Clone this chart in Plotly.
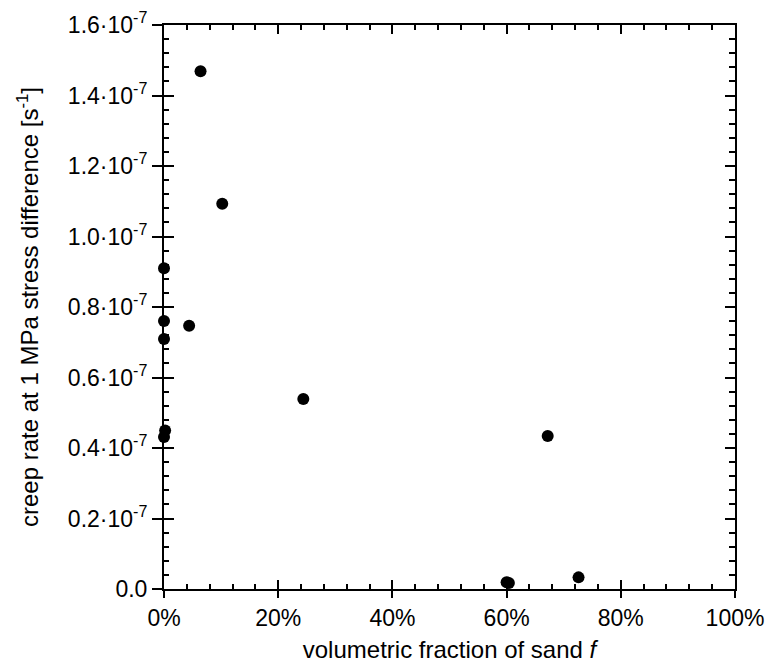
import plotly.graph_objects as go

# Data (x in percent of sand, y creep rate in s^-1)
sand_fraction_pct = [0.0, 0.0, 0.0, 0.2, 0.0, 4.4, 6.4, 10.2, 24.4, 60.0, 60.4, 67.2, 72.6]
creep_rate = [0.910e-7, 0.760e-7, 0.709e-7, 0.450e-7, 0.431e-7, 0.747e-7, 1.469e-7,
              1.093e-7, 0.539e-7, 0.019e-7, 0.017e-7, 0.434e-7, 0.033e-7]

x_tickvals = [0, 20, 40, 60, 80, 100]
x_ticktext = ["0%", "20%", "40%", "60%", "80%", "100%"]
y_tickvals = [0, 0.2e-7, 0.4e-7, 0.6e-7, 0.8e-7, 1.0e-7, 1.2e-7, 1.4e-7, 1.6e-7]
y_ticktext = ["0.0", "0.2·10<sup>-7</sup>", "0.4·10<sup>-7</sup>", "0.6·10<sup>-7</sup>",
              "0.8·10<sup>-7</sup>", "1.0·10<sup>-7</sup>", "1.2·10<sup>-7</sup>",
              "1.4·10<sup>-7</sup>", "1.6·10<sup>-7</sup>"]

FONT = "Liberation Sans, Arial, sans-serif"
XR = [0, 100]
YR = [0, 1.6e-7]

fig = go.Figure()
fig.add_trace(go.Scatter(x=sand_fraction_pct, y=creep_rate, mode="markers",
                         marker=dict(color="black", size=12), cliponaxis=False,
                         showlegend=False))
# empty traces to register the overlay axes used for inside ticks
fig.add_trace(go.Scatter(x=[], y=[], xaxis="x2", yaxis="y2", showlegend=False))
fig.add_trace(go.Scatter(x=[], y=[], xaxis="x3", yaxis="y3", showlegend=False))

common = dict(showgrid=False, zeroline=False, linecolor="black", tickcolor="black",
              tickwidth=2, automargin=False)

fig.update_layout(
    width=773, height=669,
    margin=dict(l=156, r=46, t=17, b=88),
    plot_bgcolor="white", paper_bgcolor="white",
    font=dict(family=FONT, size=23, color="black"),
    xaxis=dict(range=XR, tickvals=x_tickvals, ticktext=x_ticktext, ticks="outside",
               ticklen=7, showline=True, linewidth=2, mirror=True,
               tickfont=dict(size=23), ticklabeloverflow="allow",
               title=dict(text="volumetric fraction of sand <i>f</i>", standoff=12,
                          font=dict(size=24)), **common),
    yaxis=dict(range=YR, tickvals=y_tickvals, ticktext=y_ticktext, ticks="outside",
               ticklen=10, showline=True, linewidth=2, mirror=True,
               tickfont=dict(size=23), ticklabeloverflow="allow",
               title=dict(text="creep rate at 1 MPa stress difference [s<sup>-1</sup>]",
                          standoff=22, font=dict(size=24)), **common),
    xaxis2=dict(range=XR, overlaying="x", side="bottom", anchor="y2", tickvals=x_tickvals,
                ticks="inside", ticklen=9, showticklabels=False, showline=False,
                minor=dict(ticks="inside", ticklen=5, tickwidth=1.5, dtick=4, tick0=0,
                           tickcolor="black"), **common),
    yaxis2=dict(range=YR, overlaying="y", side="left", anchor="x2", tickvals=y_tickvals,
                ticks="inside", ticklen=10, showticklabels=False, showline=False,
                minor=dict(ticks="inside", ticklen=5, tickwidth=1.5, dtick=0.04e-7, tick0=0,
                           tickcolor="black"), **common),
    xaxis3=dict(range=XR, overlaying="x", side="top", anchor="y3", tickvals=x_tickvals,
                ticks="inside", ticklen=9, showticklabels=False, showline=False,
                minor=dict(ticks="inside", ticklen=5, tickwidth=1.5, dtick=4, tick0=0,
                           tickcolor="black"), **common),
    yaxis3=dict(range=YR, overlaying="y", side="right", anchor="x3", tickvals=y_tickvals,
                ticks="inside", ticklen=10, showticklabels=False, showline=False,
                minor=dict(ticks="inside", ticklen=6, tickwidth=1.5, dtick=0.04e-7, tick0=0,
                           tickcolor="black"), **common),
)

fig.write_html("out.html")
